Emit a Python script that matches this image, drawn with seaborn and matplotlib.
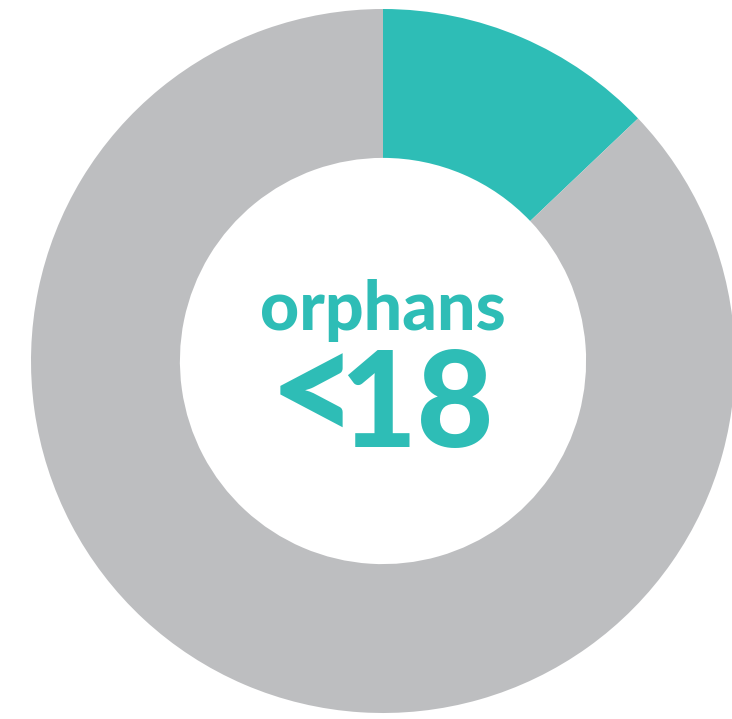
import matplotlib
matplotlib.use("Agg")
import matplotlib.pyplot as plt
import seaborn as sns

# Share of orphans under 18 (teal) vs rest (grey)
labels = ["orphans <18", "other"]
values = [12.9, 87.1]
colors = ["#2EBDB6", "#BDBEC0"]

sns.set_theme(style="white")
plt.rcParams["font.family"] = ["Lato", "DejaVu Sans"]

fig = plt.figure(figsize=(7.32, 7.19), dpi=100)
# circle centre at (383, 361) px, radius 352 px
ax = fig.add_axes([31 / 732, 6 / 719, 704 / 732, 704 / 719])
ax.pie(
    values,
    colors=colors,
    startangle=90,
    counterclock=False,
    radius=1,
    wedgeprops=dict(width=0.423, edgecolor="none"),
)
ax.set_xlim(-1, 1)
ax.set_ylim(-1, 1)
ax.set_aspect("equal")
ax.axis("off")

ax.text(0.0, 0.088, "orphans", ha="center", va="baseline",
        fontsize=49, fontweight="black", color=colors[0])
ax.text(-0.068, -0.235, "<", ha="right", va="baseline",
        fontsize=112, fontweight="black", color=colors[0])
ax.text(0.094, -0.245, "18", ha="center", va="baseline",
        fontsize=96, fontweight="black", color=colors[0])

fig.savefig("out.png", dpi=100)
